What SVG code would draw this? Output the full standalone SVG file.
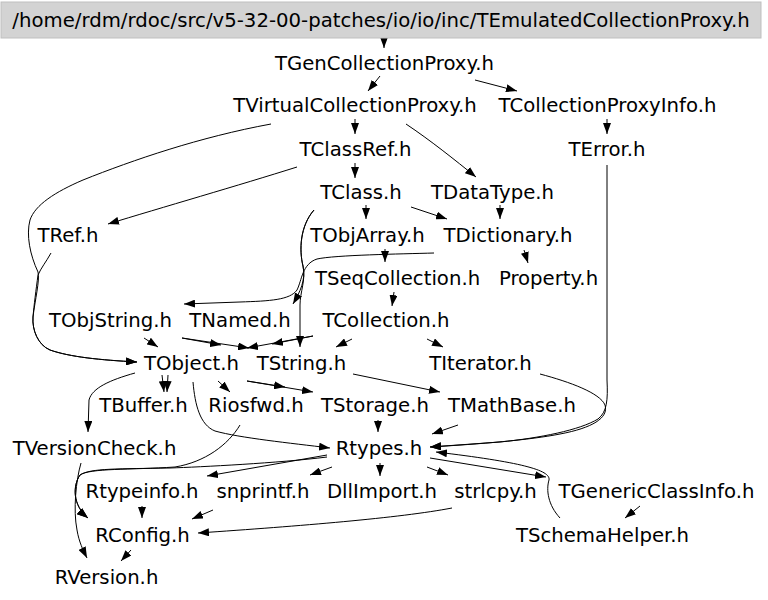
<svg xmlns="http://www.w3.org/2000/svg" width="768" height="600" viewBox="0 0 768 600">
<defs>
<marker id="ah" markerUnits="userSpaceOnUse" markerWidth="11" markerHeight="8" refX="11" refY="4" orient="auto">
<path d="M0,0 L11,4 L0,8 z" fill="#000"/>
</marker>
<style>
text{font-family:"DejaVu Sans","Liberation Sans",sans-serif;font-size:19.7px;fill:#000;text-anchor:middle}
#edges path{fill:none;stroke:#000;stroke-width:1;marker-end:url(#ah)}
</style>
</defs>
<rect width="768" height="600" fill="#fff"/>
<g id="edges">
<path d="M384,38 L384,48"/>
<path d="M380,76 L368,91"/>
<path d="M475,80 L517,91"/>
<path d="M355,119 L355,134"/>
<path d="M406,124 C430,140 455,160 476,177"/>
<path d="M271,124 C200,137 133,160 83,180 C55,192 35,205 30,220 C26,235 30,255 38,272 C40,280 35,300 33,317 C32,330 38,345 50,350 C70,357 100,360 137,362"/>
<path d="M51,253 C46,262 41,268 38,275 C36,290 34,305 33,317 C32,330 38,345 50,350 C70,357 100,360 137,362"/>
<path d="M607,119 L607,134"/>
<path d="M355,163 L355,178"/>
<path d="M297,167 C240,185 160,208 108,224"/>
<path d="M366,205 L366,219"/>
<path d="M411,207 L447,219"/>
<path d="M500,205 L500,219"/>
<path d="M607,165 L607,380 C608,400 607,412 598,419 C580,430 540,438 500,442 L430,447"/>
<path d="M540,374 C570,382 600,393 605,405 C609,418 592,428 560,434 C530,440 480,444 430,447"/>
<path d="M314,210 C300,226 299,250 303,266 C306,280 300,292 293,304"/>
<path d="M314,210 C300,226 299,250 303,266 C306,280 300,292 300,305 L300,347"/>
<path d="M434,253 C400,254 335,255 317,259 C302,264 302,280 297,290 C290,300 270,301 240,302 L184,304"/>
<path d="M385,249 L385,262"/>
<path d="M524,250 L528,263"/>
<path d="M394,292 L392,306"/>
<path d="M144,338 L158,347"/>
<path d="M182,338 L221,345"/>
<path d="M182,338 L249,348"/>
<path d="M313,336 L272,344"/>
<path d="M313,336 L247,348"/>
<path d="M352,339 L336,347"/>
<path d="M427,339 L443,347"/>
<path d="M162,375 L164,392"/>
<path d="M168,375 L167,392"/>
<path d="M135,373 C110,380 92,388 89,400 L88,432"/>
<path d="M218,381 L230,392"/>
<path d="M193,382 C195,405 200,425 215,431 C240,438 290,443 330,448"/>
<path d="M247,381 L285,387"/>
<path d="M247,381 L313,392"/>
<path d="M353,374 L440,392"/>
<path d="M378,420 L378,432"/>
<path d="M458,425 L432,434"/>
<path d="M240,425 C228,445 205,462 175,467 C130,470 90,468 80,475 C73,485 72,505 88,518"/>
<path d="M327,457 C280,463 200,467 170,468 C120,469 90,468 80,475 C73,485 72,505 88,518"/>
<path d="M327,455 L207,476"/>
<path d="M332,467 L310,475"/>
<path d="M380,463 L380,476"/>
<path d="M427,467 L448,475"/>
<path d="M430,458 L546,477"/>
<path d="M560,518 C548,505 546,490 549,480 C551,470 520,462 436,452"/>
<path d="M640,506 L625,518"/>
<path d="M142,506 L142,518"/>
<path d="M213,510 L192,519"/>
<path d="M452,508 C400,518 300,526 198,533"/>
<path d="M131,550 L121,561"/>
<path d="M81,463 C76,480 73,510 77,530 C79,542 83,550 87,558"/>
</g>
<g id="n_root"><rect x="1" y="2" width="760" height="36" fill="#d3d3d3" stroke="#bfbfbf"/><text x="381" y="27">/home/rdm/rdoc/src/v5-32-00-patches/io/io/inc/TEmulatedCollectionProxy.h</text></g>
<g id="n_TGenCollectionProxy"><text x="384.5" y="70">TGenCollectionProxy.h</text></g>
<g id="n_TVirtualCollectionProxy"><text x="355" y="112">TVirtualCollectionProxy.h</text></g>
<g id="n_TCollectionProxyInfo"><text x="607.5" y="112">TCollectionProxyInfo.h</text></g>
<g id="n_TClassRef"><text x="355.5" y="156">TClassRef.h</text></g>
<g id="n_TError"><text x="607" y="156">TError.h</text></g>
<g id="n_TClass"><text x="361" y="199">TClass.h</text></g>
<g id="n_TDataType"><text x="492.5" y="199">TDataType.h</text></g>
<g id="n_TRef"><text x="68" y="242">TRef.h</text></g>
<g id="n_TObjArray"><text x="367.5" y="242">TObjArray.h</text></g>
<g id="n_TDictionary"><text x="508" y="242">TDictionary.h</text></g>
<g id="n_TSeqCollection"><text x="397.5" y="285">TSeqCollection.h</text></g>
<g id="n_Property"><text x="548.5" y="285">Property.h</text></g>
<g id="n_TObjString"><text x="110.5" y="327">TObjString.h</text></g>
<g id="n_TNamed"><text x="240" y="327">TNamed.h</text></g>
<g id="n_TCollection"><text x="386" y="327">TCollection.h</text></g>
<g id="n_TObject"><text x="191.5" y="369.5">TObject.h</text></g>
<g id="n_TString"><text x="301.5" y="369.5">TString.h</text></g>
<g id="n_TIterator"><text x="480.5" y="370">TIterator.h</text></g>
<g id="n_TBuffer"><text x="143.5" y="412">TBuffer.h</text></g>
<g id="n_Riosfwd"><text x="256" y="412">Riosfwd.h</text></g>
<g id="n_TStorage"><text x="375" y="412">TStorage.h</text></g>
<g id="n_TMathBase"><text x="512" y="412">TMathBase.h</text></g>
<g id="n_TVersionCheck"><text x="94.5" y="455">TVersionCheck.h</text></g>
<g id="n_Rtypes"><text x="379" y="455">Rtypes.h</text></g>
<g id="n_Rtypeinfo"><text x="142" y="498">Rtypeinfo.h</text></g>
<g id="n_snprintf"><text x="263" y="498">snprintf.h</text></g>
<g id="n_DllImport"><text x="382" y="498">DllImport.h</text></g>
<g id="n_strlcpy"><text x="495.5" y="498">strlcpy.h</text></g>
<g id="n_TGenericClassInfo"><text x="656.5" y="498">TGenericClassInfo.h</text></g>
<g id="n_RConfig"><text x="142.5" y="542">RConfig.h</text></g>
<g id="n_TSchemaHelper"><text x="602.5" y="542">TSchemaHelper.h</text></g>
<g id="n_RVersion"><text x="106.5" y="584">RVersion.h</text></g>
</svg>
